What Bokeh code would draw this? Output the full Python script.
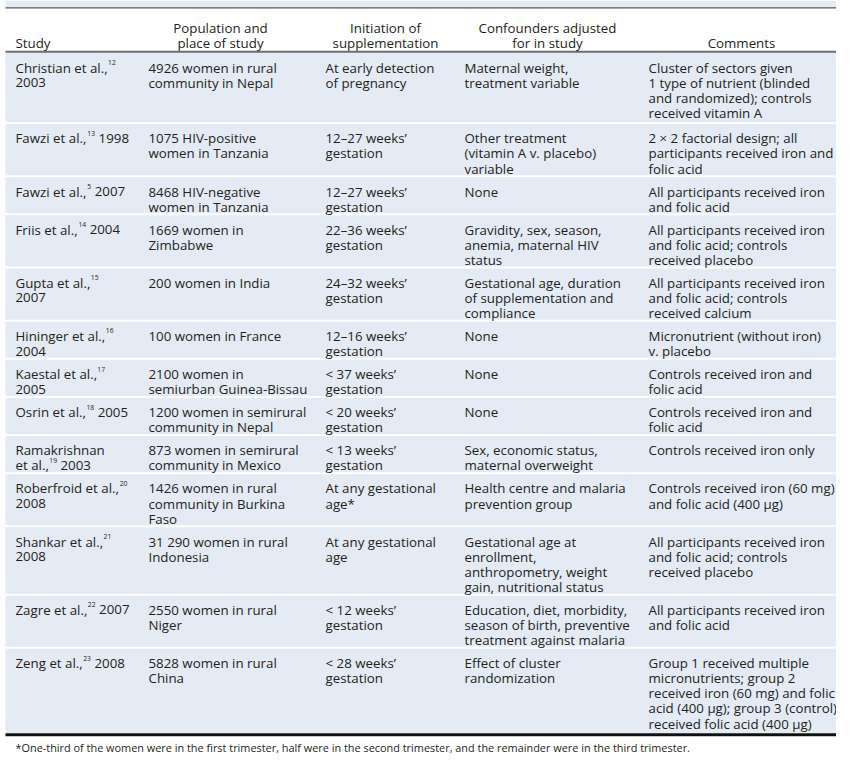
from bokeh.plotting import figure
from bokeh.models import Range1d, ColumnDataSource
from bokeh.embed import file_html
from bokeh.resources import INLINE
from bokeh.core.properties import value

# ---------------- data ----------------
headers = ["Study", "Population and\nplace of study", "Initiation of\nsupplementation",
           "Confounders adjusted\nfor in study", "Comments"]

study_authors = ["Christian et al.,", "Fawzi et al.,", "Fawzi et al.,", "Friis et al.,",
                 "Gupta et al.,", "Hininger et al.,", "Kaestal et al.,", "Osrin et al.,",
                 "Ramakrishnan\net al.,", "Roberfroid et al.,", "Shankar et al.,",
                 "Zagre et al.,", "Zeng et al.,"]
study_refs = ["12", "13", "5", "14", "15", "16", "17", "18", "19", "20", "21", "22", "23"]
study_years = ["2003", "1998", "2007", "2004", "2007", "2004", "2005", "2005", "2003",
               "2008", "2008", "2007", "2008"]
year_on_new_line = [True, False, False, False, True, True, True, False, False,
                    True, True, False, False]

populations = [
    "4926 women in rural\ncommunity in Nepal",
    "1075 HIV-positive\nwomen in Tanzania",
    "8468 HIV-negative\nwomen in Tanzania",
    "1669 women in\nZimbabwe",
    "200 women in India",
    "100 women in France",
    "2100 women in\nsemiurban Guinea-Bissau",
    "1200 women in semirural\ncommunity in Nepal",
    "873 women in semirural\ncommunity in Mexico",
    "1426 women in rural\ncommunity in Burkina\nFaso",
    "31 290 women in rural\nIndonesia",
    "2550 women in rural\nNiger",
    "5828 women in rural\nChina",
]
initiation = [
    "At early detection\nof pregnancy",
    "12\u201327 weeks\u2019\ngestation",
    "12\u201327 weeks\u2019\ngestation",
    "22\u201336 weeks\u2019\ngestation",
    "24\u201332 weeks\u2019\ngestation",
    "12\u201316 weeks\u2019\ngestation",
    "< 37 weeks\u2019\ngestation",
    "< 20 weeks\u2019\ngestation",
    "< 13 weeks\u2019\ngestation",
    "At any gestational\nage*",
    "At any gestational\nage",
    "< 12 weeks\u2019\ngestation",
    "< 28 weeks\u2019\ngestation",
]
confounders = [
    "Maternal weight,\ntreatment variable",
    "Other treatment\n(vitamin A v. placebo)\nvariable",
    "None",
    "Gravidity, sex, season,\nanemia, maternal HIV\nstatus",
    "Gestational age, duration\nof supplementation and\ncompliance",
    "None",
    "None",
    "None",
    "Sex, economic status,\nmaternal overweight",
    "Health centre and malaria\nprevention group",
    "Gestational age at\nenrollment,\nanthropometry, weight\ngain, nutritional status",
    "Education, diet, morbidity,\nseason of birth, preventive\ntreatment against malaria",
    "Effect of cluster\nrandomization",
]
comments = [
    "Cluster of sectors given\n1 type of nutrient (blinded\nand randomized); controls\nreceived vitamin A",
    "2 \u00d7 2 factorial design; all\nparticipants received iron and\nfolic acid",
    "All participants received iron\nand folic acid",
    "All participants received iron\nand folic acid; controls\nreceived placebo",
    "All participants received iron\nand folic acid; controls\nreceived calcium",
    "Micronutrient (without iron)\nv. placebo",
    "Controls received iron and\nfolic acid",
    "Controls received iron and\nfolic acid",
    "Controls received iron only",
    "Controls received iron (60 mg)\nand folic acid (400 \u00b5g)",
    "All participants received iron\nand folic acid; controls\nreceived placebo",
    "All participants received iron\nand folic acid",
    "Group 1 received multiple\nmicronutrients; group 2\nreceived iron (60 mg) and folic\nacid (400 \u00b5g); group 3 (control)\nreceived folic acid (400 \u00b5g)",
]
footnote = ("*One-third of the women were in the first trimester, half were in the second "
            "trimester, and the remainder were in the third trimester.")

# ---------------- layout / style ----------------
FONT = "Open Sans"
FS = 13.3          # main font size (px)
SUP_FS = 6.8       # superscript font size
FOOT_FS = 10.9
TXT = "#231f20"
BLUE = "#e4ebf5"

TABLE_L, TABLE_R = 5, 845
COL_X = [15, 148, 325, 464, 648]
HEAD_CX = [None, 220, 385, 547, 741]
HEAD_BASE = [28.0, 43.0]
BODY_TOP = 52.5
LINE = 15.3
PAD = 8.0
FIRST_EXTRA = 2.5
LAST_EXTRA = 2.0
BASE_OFF = 15.5
FOOT_BASE = 757.0

# approximate Open Sans advance widths (em) for superscript placement
W = {' ': .26, ',': .245, '.': .266, 'a': .556, 'b': .613, 'd': .613, 'e': .561, 'f': .339,
     'g': .548, 'h': .614, 'i': .253, 'k': .525, 'l': .253, 'm': .930, 'n': .614, 'o': .604,
     'p': .613, 'r': .408, 's': .477, 't': .353, 'u': .614, 'w': .778, 'z': .477, 'C': .633,
     'F': .539, 'G': .722, 'H': .738, 'K': .598, 'O': .781, 'R': .631, 'S': .549, 'Z': .569}
for d in "0123456789":
    W[d] = .572


def tw(s, fs):
    return sum(W.get(c, .56) for c in s) * fs


p = figure(width=836, height=756, output_backend="svg", toolbar_location=None,
           x_range=Range1d(0, 836), y_range=Range1d(766, 0),
           min_border=0, outline_line_color=None, background_fill_color="white",
           border_fill_color="white")
p.axis.visible = False
p.grid.visible = False

# build study column lines
study_cells = []
for a, yr, nl in zip(study_authors, study_years, year_on_new_line):
    lines = a.split("\n")
    study_cells.append(lines + [yr] if nl else lines)

n_rows = len(study_authors)
row_tops, row_bots = [], []
y = BODY_TOP
for i in range(n_rows):
    n = max(len(study_cells[i]), populations[i].count("\n") + 1,
            initiation[i].count("\n") + 1, confounders[i].count("\n") + 1,
            comments[i].count("\n") + 1)
    h = LINE * n + PAD + (FIRST_EXTRA if i == 0 else 0) + (LAST_EXTRA if i == n_rows - 1 else 0)
    row_tops.append(y)
    y += h
    row_bots.append(y)
body_bot = y

# backgrounds
p.quad(left=[TABLE_L], right=[TABLE_R], top=[0], bottom=[7], fill_color=BLUE, line_color=None)
p.quad(left=[TABLE_L], right=[TABLE_R], top=[BODY_TOP], bottom=[body_bot],
       fill_color=BLUE, line_color=None)
# white row separators
p.segment(x0=[TABLE_L] * (n_rows - 1), x1=[TABLE_R] * (n_rows - 1),
          y0=row_bots[:-1], y1=row_bots[:-1], line_color="white", line_width=2)
# rules
p.segment(x0=[TABLE_L], x1=[TABLE_R], y0=[7.5], y1=[7.5], line_color="#555555", line_width=1.2)
p.segment(x0=[TABLE_L], x1=[TABLE_R], y0=[BODY_TOP - 0.5], y1=[BODY_TOP - 0.5],
          line_color="#6d6e71", line_width=2)
p.segment(x0=[TABLE_L], x1=[TABLE_R], y0=[body_bot + 1.5], y1=[body_bot + 1.5],
          line_color="#111111", line_width=3)

# text collections
lx, ly, lt = [], [], []
cx, cy, ct = [], [], []
sx, sy, st = [], [], []

# header: single-line headers sit on the lower header line
lx.append(COL_X[0]); ly.append(HEAD_BASE[1]); lt.append(headers[0])
for j in range(1, 5):
    hl = headers[j].split("\n")
    offs = len(HEAD_BASE) - len(hl)
    for k, line in enumerate(hl):
        cx.append(HEAD_CX[j]); cy.append(HEAD_BASE[k + offs]); ct.append(line)

# body
for i in range(n_rows):
    base = row_tops[i] + BASE_OFF
    a_lines = study_authors[i].split("\n")
    for k, line in enumerate(a_lines):
        lx.append(COL_X[0]); ly.append(base + k * LINE); lt.append(line)
    last = a_lines[-1]
    k_last = len(a_lines) - 1
    sup_x = COL_X[0] + tw(last, FS) + 0.6
    sx.append(sup_x); sy.append(base + k_last * LINE - 5.2); st.append(study_refs[i])
    if year_on_new_line[i]:
        lx.append(COL_X[0]); ly.append(base + (k_last + 1) * LINE); lt.append(study_years[i])
    else:
        yx = sup_x + tw(study_refs[i], SUP_FS) + tw(" ", FS)
        lx.append(yx); ly.append(base + k_last * LINE); lt.append(study_years[i])
    for j, col in enumerate([populations, initiation, confounders, comments], start=1):
        for k, line in enumerate(col[i].split("\n")):
            lx.append(COL_X[j]); ly.append(base + k * LINE); lt.append(line)

common = dict(text_font=value(FONT), text_color=TXT, text_baseline="alphabetic")
p.text(x="x", y="y", text="t", source=ColumnDataSource(dict(x=lx, y=ly, t=lt)),
       text_align="left", text_font_size=f"{FS}px", **common)
p.text(x="x", y="y", text="t", source=ColumnDataSource(dict(x=cx, y=cy, t=ct)),
       text_align="center", text_font_size=f"{FS}px", **common)
p.text(x="x", y="y", text="t", source=ColumnDataSource(dict(x=sx, y=sy, t=st)),
       text_align="left", text_font_size=f"{SUP_FS}px", **common)
p.text(x=[COL_X[0]], y=[FOOT_BASE], text=[footnote], text_align="left",
       text_font_size=f"{FOOT_FS}px", **common)

open("out.html", "w").write(file_html(p, INLINE))
